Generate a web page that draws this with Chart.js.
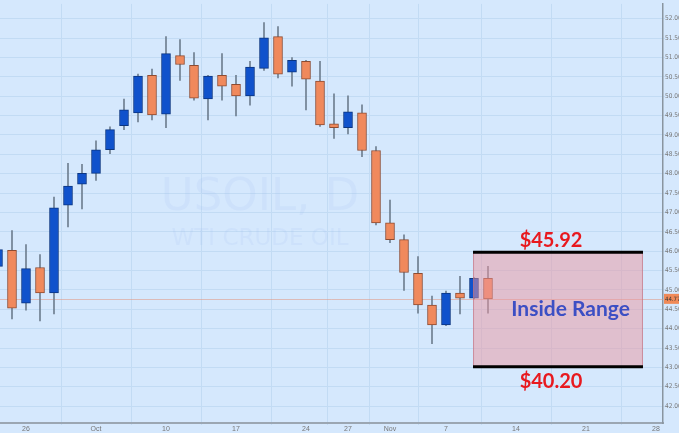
<!DOCTYPE html>
<html>
<head>
<meta charset="utf-8">
<script src="https://cdn.jsdelivr.net/npm/chart.js@4/dist/chart.umd.min.js"></script>
<style>
  html, body { margin: 0; padding: 0; background: #d5e8fd; }
  #wrap { width: 679px; height: 433px; }
</style>
</head>
<body>
<div id="wrap"><canvas id="grafico" width="679" height="433"></canvas></div>
<script>
// Dias de pregão (índice = posição no eixo x)
const dias = ['Sep 22','Sep 23','Sep 26','Sep 27','Sep 28','Sep 29','Sep 30',
  'Oct 3','Oct 4','Oct 5','Oct 6','Oct 7','Oct 10','Oct 11','Oct 12','Oct 13','Oct 14',
  'Oct 17','Oct 18','Oct 19','Oct 20','Oct 21','Oct 24','Oct 25','Oct 26','Oct 27','Oct 28',
  'Oct 31','Nov 1','Nov 2','Nov 3','Nov 4','Nov 7','Nov 8','Nov 9','Nov 10'];

// OHLC
const abertura = [45.61, 46.02, 44.66, 45.58, 44.92, 47.19, 47.73, 48.01, 48.62, 49.24, 49.57, 50.54,
  49.54, 51.05, 50.80, 49.93, 50.54, 50.31, 50.01, 50.72, 51.54, 50.62, 50.90, 50.39,
  49.29, 49.19, 49.57, 48.60, 46.73, 46.30, 45.43, 44.61, 44.10, 44.92, 44.79, 45.30];
const maxima = [46.30, 46.53, 46.17, 45.91, 47.40, 48.27, 48.24, 48.85, 49.21, 49.93, 50.57, 50.70,
  51.54, 51.46, 51.13, 50.54, 51.10, 50.54, 50.90, 51.90, 51.80, 51.00, 50.93, 50.90,
  50.06, 50.01, 49.78, 48.70, 47.32, 46.42, 45.86, 44.84, 44.97, 45.35, 45.32, 45.61];
const minima = [45.48, 44.25, 44.48, 44.20, 44.38, 46.63, 47.09, 47.83, 48.52, 49.14, 49.34, 49.39,
  49.19, 50.41, 49.90, 49.39, 49.90, 49.49, 49.77, 50.67, 50.47, 50.26, 49.65, 49.22,
  48.91, 49.03, 48.44, 46.68, 46.22, 44.99, 44.40, 43.61, 44.08, 44.38, 44.77, 44.40];
const fechamento = [46.04, 44.53, 45.55, 44.92, 47.12, 47.68, 48.01, 48.62, 49.14, 49.65, 50.52, 49.52,
  51.10, 50.82, 49.95, 50.52, 50.26, 50.01, 50.75, 51.51, 50.57, 50.93, 50.44, 49.26,
  49.19, 49.60, 48.60, 46.73, 46.30, 45.45, 44.61, 44.10, 44.92, 44.79, 45.30, 44.77];

// Rótulos do eixo x (índice do dia -> texto)
const ticksX = [2, 7, 12, 17, 22, 25, 28, 32, 37, 42, 47];
const rotulosX = ['26', 'Oct', '10', '17', '24', '27', 'Nov', '7', '14', '21', '28'];

// Eixo y
const ticksY = [42, 42.5, 43, 43.5, 44, 44.5, 45, 45.5, 46, 46.5, 47, 47.5, 48, 48.5, 49, 49.5, 50, 50.5, 51, 51.5, 52];
const ultimoPreco = 44.77;

// Faixa "Inside Range"
const faixaInicio = 33.93, faixaFim = 46.07;
const faixaTopo = 45.97, faixaBase = 43.02;
const rotuloTopo = '$45.92', rotuloBase = '$40.20', rotuloFaixa = 'Inside Range';

const AZUL = '#1052cc', LARANJA = '#f0895c';
const FONTE_EIXO = '"Liberation Sans Narrow", "DejaVu Sans Condensed", sans-serif';
const sobe = i => fechamento[i] >= abertura[i];

const corpos = dias.map((d, i) => ({ x: i, y: [abertura[i], fechamento[i]] }));
const pavios = dias.map((d, i) => ({ x: i, y: [minima[i], maxima[i]] }));

// Fundo, marca d'água, linha de preço e anotações
const pluginDesenho = {
    id: 'desenho',
    beforeDraw(chart) {
        const c = chart.ctx;
        c.save();
        c.fillStyle = '#d5e8fd';
        c.fillRect(0, 0, chart.width, chart.height);
        c.restore();
    },
    beforeDatasetsDraw(chart) {
        const c = chart.ctx, a = chart.chartArea;
        const y = chart.scales.y;
        c.save();
        c.fillStyle = 'rgba(150,185,235,0.12)';
        c.textAlign = 'center';
        c.textBaseline = 'alphabetic';
        c.font = '45px "DejaVu Sans"';
        c.fillText('USOIL, D', 260, 210);
        c.font = '23px "DejaVu Sans"';
        c.fillText('WTI CRUDE OIL', 260, 245);
        // linha do último preço
        const yp = Math.round(y.getPixelForValue(ultimoPreco)) + 0.5;
        c.strokeStyle = 'rgba(225,150,130,0.55)';
        c.lineWidth = 1;
        c.beginPath();
        c.moveTo(a.left, yp);
        c.lineTo(a.right, yp);
        c.stroke();
        c.restore();
    },
    afterDatasetsDraw(chart) {
        const c = chart.ctx;
        const x = chart.scales.x, y = chart.scales.y;
        const x0 = x.getPixelForValue(faixaInicio), x1 = x.getPixelForValue(faixaFim);
        const yt = y.getPixelForValue(faixaTopo), yb = y.getPixelForValue(faixaBase);
        c.save();
        c.fillStyle = 'rgba(235,150,160,0.5)';
        c.fillRect(x0, yt, x1 - x0, yb - yt);
        c.strokeStyle = 'rgba(190,110,125,0.6)';
        c.lineWidth = 1;
        c.strokeRect(x0 + 0.5, yt, x1 - x0 - 1, yb - yt);
        c.strokeStyle = '#000';
        c.lineWidth = 3;
        c.beginPath();
        c.moveTo(x0, yt); c.lineTo(x1, yt);
        c.moveTo(x0, yb); c.lineTo(x1, yb);
        c.stroke();

        c.textAlign = 'center';
        c.textBaseline = 'middle';
        c.font = 'bold 20px Lato';
        c.fillStyle = '#e8191f';
        c.fillText(rotuloTopo, x.getPixelForValue(39.5), y.getPixelForValue(46.27));
        c.fillText(rotuloBase, x.getPixelForValue(39.5), y.getPixelForValue(42.64));
        c.fillStyle = '#3c4fc4';
        c.font = 'bold 21px Lato';
        c.fillText(rotuloFaixa, x.getPixelForValue(40.9), y.getPixelForValue(44.51));

        // etiqueta do preço no eixo
        const yp = y.getPixelForValue(ultimoPreco);
        c.fillStyle = '#f08a58';
        c.fillRect(chart.chartArea.right + 1, yp - 5, 16, 10);
        c.fillStyle = '#333';
        c.font = '6px ' + FONTE_EIXO;
        c.textAlign = 'left';
        c.fillText(ultimoPreco.toFixed(2), chart.chartArea.right + 2, yp + 0.5);
        c.restore();
    }
};

new Chart(document.getElementById('grafico').getContext('2d'), {
    type: 'bar',
    data: {
        datasets: [
            {
                label: 'Corpo',
                data: corpos,
                grouped: false,
                barThickness: 9,
                backgroundColor: ctx => sobe(ctx.dataIndex) ? AZUL : LARANJA,
                borderColor: ctx => sobe(ctx.dataIndex) ? '#0b3580' : '#8e4b30',
                borderWidth: 1,
                borderSkipped: false
            },
            {
                label: 'Pavio',
                data: pavios,
                grouped: false,
                barThickness: 1,
                backgroundColor: '#6f7f90',
                borderWidth: 0
            }
        ]
    },
    options: {
        responsive: false,
        animation: false,
        layout: { padding: 0 },
        plugins: {
            legend: { display: false },
            tooltip: { enabled: false }
        },
        scales: {
            x: {
                type: 'linear',
                min: 2 / 14,
                max: 665 / 14,
                offset: false,
                afterBuildTicks: s => { s.ticks = ticksX.map(v => ({ value: v })); },
                afterFit: s => { s.height = 10; },
                ticks: {
                    autoSkip: false,
                    maxRotation: 0,
                    padding: 0,
                    color: '#777',
                    font: { size: 7, family: 'Liberation Sans' },
                    callback: v => rotulosX[ticksX.indexOf(v)]
                },
                grid: { color: '#c2dbf4', tickLength: 2 },
                border: { color: '#9ba6b2', width: 2 }
            },
            y: {
                position: 'right',
                min: 41.565,
                max: 52.384,
                afterBuildTicks: s => { s.ticks = ticksY.map(v => ({ value: v })); },
                afterFit: s => { s.width = 16; },
                ticks: {
                    padding: 0,
                    color: '#777',
                    font: { size: 6.5, family: FONTE_EIXO },
                    callback: v => v.toFixed(2)
                },
                grid: { color: '#c2dbf4', tickLength: 2 },
                border: { color: '#8a95a0', width: 1.5 }
            }
        }
    },
    plugins: [pluginDesenho]
});
</script>
</body>
</html>
